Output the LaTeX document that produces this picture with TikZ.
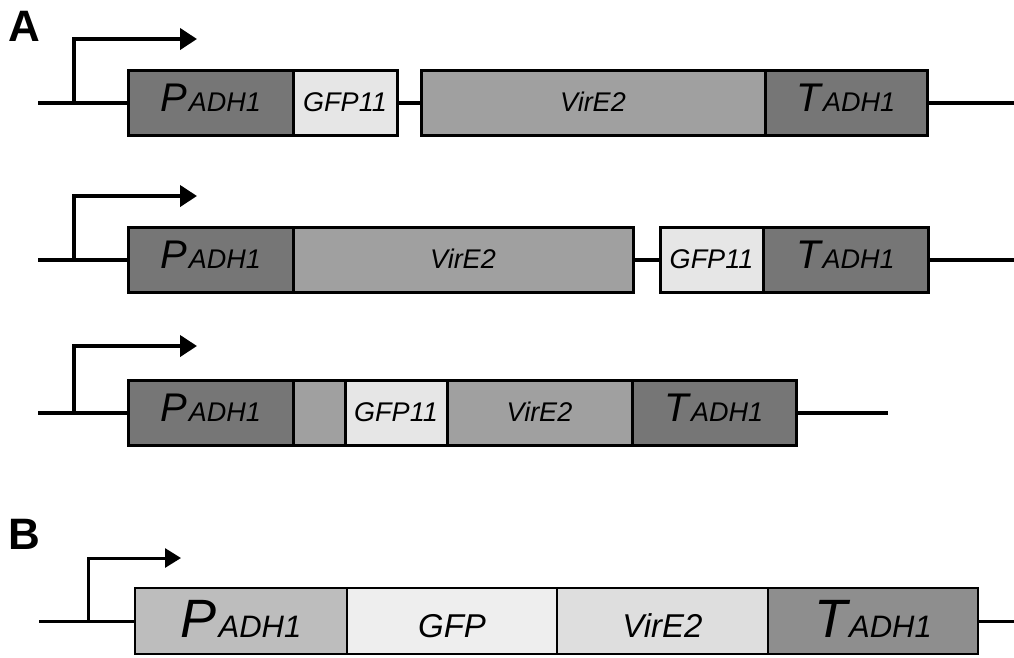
\documentclass[tikz,border=0pt]{standalone}
\usepackage{fontspec}
\setmainfont{Liberation Sans}
\usetikzlibrary{arrows.meta}
\definecolor{cDark}{HTML}{767676}
\definecolor{cMid}{HTML}{A0A0A0}
\definecolor{cLight}{HTML}{E6E6E6}
\definecolor{bP}{HTML}{BDBDBD}
\definecolor{bG}{HTML}{EEEEEE}
\definecolor{bV}{HTML}{DEDEDE}
\definecolor{bT}{HTML}{8E8E8E}
\newcommand{\bigsmall}[4]{{\fontsize{#1}{#1}\selectfont #3}\hspace{2pt}{\fontsize{#2}{#2}\selectfont #4}}
\tikzset{
  segA/.style={draw=black, line width=3pt, inner sep=0pt, minimum height=65pt,
    text height=21pt, text depth=3pt, font=\itshape\fontsize{27}{27}\selectfont},
  segB/.style={draw=black, line width=2.5pt, inner sep=0pt, minimum height=66pt,
    text height=33pt, text depth=1pt, font=\itshape\fontsize{33}{33}\selectfont},
  lineA/.style={line width=4pt, line cap=butt},
  lineB/.style={line width=3pt, line cap=butt},
  promA/.style={line width=4pt, line join=miter, -{Triangle[length=17pt,width=21pt]}},
  promB/.style={line width=3pt, line join=miter, -{Triangle[length=16pt,width=19pt]}},
  panel/.style={font=\bfseries\fontsize{44}{44}\selectfont, inner sep=0pt, anchor=base west}
}
\begin{document}
\begin{tikzpicture}[x=1pt,y=-1pt]
\useasboundingbox (0,0) rectangle (1014,657);
% panel labels
\node[panel] (labA) at (8,41) {A};
\node[panel] (labB) at (8,549) {B};

% ---------- Row 1 ----------
\node[segA, fill=cDark, minimum width=165pt] (p1) at (210.5,102.5) {\bigsmall{40}{27}{P}{ADH1}};
\node[segA, fill=cLight, minimum width=104pt] (g1) at (345,102.5) {GFP11};
\node[segA, fill=cMid, minimum width=344pt] (v1) at (593,102.5) {VirE2};
\node[segA, fill=cDark, minimum width=162pt] (t1) at (846,102.5) {\bigsmall{40}{27}{T}{ADH1}};
\coordinate (s1) at (38,102.5);
\coordinate (e1) at (1014,102.5);
\coordinate (b1) at (74,102.5);
\coordinate (a1) at (197,39);
\draw[lineA] (s1) -- (p1.west);
\draw[lineA] (g1.east) -- (v1.west);
\draw[lineA] (t1.east) -- (e1);
\draw[promA] (b1) |- (a1);

% ---------- Row 2 ----------
\node[segA, fill=cDark, minimum width=165pt] (p2) at (210.5,259.5) {\bigsmall{40}{27}{P}{ADH1}};
\node[segA, fill=cMid, minimum width=340pt] (v2) at (463,259.5) {VirE2};
\node[segA, fill=cLight, minimum width=103pt] (g2) at (711.5,259.5) {GFP11};
\node[segA, fill=cDark, minimum width=165pt] (t2) at (845.5,259.5) {\bigsmall{40}{27}{T}{ADH1}};
\coordinate (s2) at (38,259.5);
\coordinate (e2) at (1014,259.5);
\coordinate (b2) at (74,259.5);
\coordinate (a2) at (197,196);
\draw[lineA] (s2) -- (p2.west);
\draw[lineA] (v2.east) -- (g2.west);
\draw[lineA] (t2.east) -- (e2);
\draw[promA] (b2) |- (a2);

% ---------- Row 3 ----------
\node[segA, fill=cDark, minimum width=165pt] (p3) at (210.5,412.5) {\bigsmall{40}{27}{P}{ADH1}};
\node[segA, fill=cMid, minimum width=52pt] (x3) at (319,412.5) {};
\node[segA, fill=cLight, minimum width=102pt] (g3) at (396,412.5) {GFP11};
\node[segA, fill=cMid, minimum width=185pt] (v3) at (539.5,412.5) {VirE2};
\node[segA, fill=cDark, minimum width=164pt] (t3) at (714,412.5) {\bigsmall{40}{27}{T}{ADH1}};
\coordinate (s3) at (38,412.5);
\coordinate (e3) at (888,412.5);
\coordinate (b3) at (74,412.5);
\coordinate (a3) at (197,346);
\draw[lineA] (s3) -- (p3.west);
\draw[lineA] (t3.east) -- (e3);
\draw[promA] (b3) |- (a3);

% ---------- Panel B ----------
\node[segB, fill=bP, minimum width=212pt] (pb) at (241,621) {\bigsmall{54}{31}{P}{ADH1}};
\node[segB, fill=bG, minimum width=210pt] (gb) at (452,621) {GFP};
\node[segB, fill=bV, minimum width=211pt] (vb) at (662.5,621) {VirE2};
\node[segB, fill=bT, minimum width=210pt] (tb) at (873,621) {\bigsmall{54}{31}{T}{ADH1}};
\coordinate (sb) at (39,621);
\coordinate (eb) at (1014,621);
\coordinate (bb) at (88,621);
\coordinate (ab) at (181,558);
\draw[lineB] (sb) -- (pb.west);
\draw[lineB] (tb.east) -- (eb);
\draw[promB] (bb) |- (ab);
\end{tikzpicture}
\end{document}
